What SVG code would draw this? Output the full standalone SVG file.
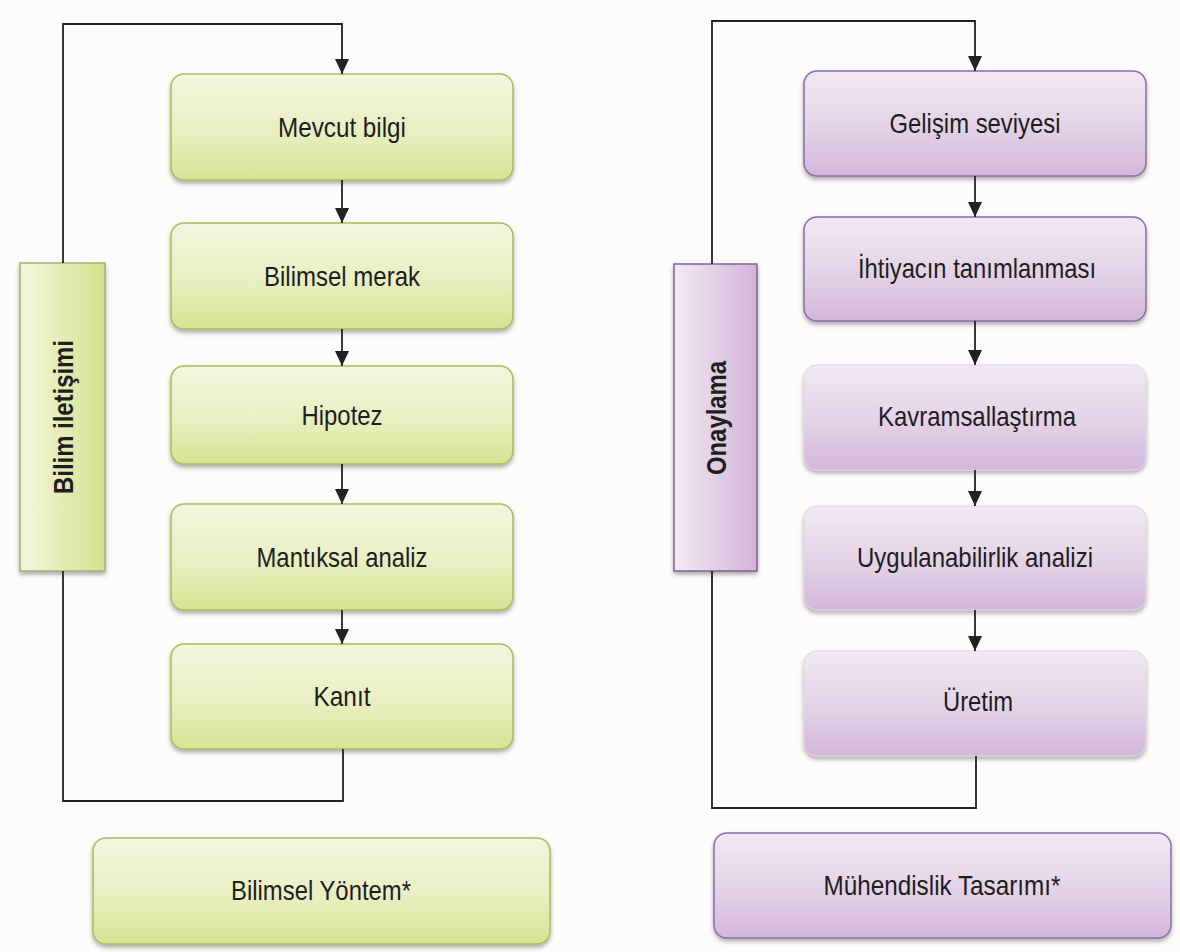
<svg xmlns="http://www.w3.org/2000/svg" width="1180" height="952" viewBox="0 0 1180 952">
  <defs>
    <linearGradient id="gGreen" x1="0" y1="0" x2="0" y2="1">
      <stop offset="0" stop-color="#f3f5dd"/>
      <stop offset="0.55" stop-color="#e9efc2"/>
      <stop offset="1" stop-color="#d7e393"/>
    </linearGradient>
    <linearGradient id="gPurple" x1="0" y1="0" x2="0" y2="1">
      <stop offset="0" stop-color="#f1e8f2"/>
      <stop offset="0.55" stop-color="#e3d2e7"/>
      <stop offset="1" stop-color="#d2b6da"/>
    </linearGradient>
    <linearGradient id="gGreenBar" x1="0" y1="0" x2="1" y2="0">
      <stop offset="0" stop-color="#f3f6dc"/>
      <stop offset="1" stop-color="#d5e18f"/>
    </linearGradient>
    <linearGradient id="gPurpleBar" x1="0" y1="0" x2="1" y2="0">
      <stop offset="0" stop-color="#f3eaf4"/>
      <stop offset="1" stop-color="#d2b4d8"/>
    </linearGradient>
    <filter id="shadow" x="-10%" y="-10%" width="120%" height="130%">
      <feDropShadow dx="0" dy="3" stdDeviation="2" flood-color="#555" flood-opacity="0.45"/>
    </filter>
    <marker id="arrow" viewBox="0 0 15 14" refX="15" refY="7" markerWidth="15" markerHeight="14" markerUnits="userSpaceOnUse" orient="auto">
      <path d="M0,0 L15,7 L0,14 z" fill="#222"/>
    </marker>
    <style>
      .lbl { font-family: "Liberation Sans", Arial, sans-serif; font-size: 28px; fill: #1e1e1e; text-anchor: middle; }
      .bar { font-weight: bold; }
      .green { fill: url(#gGreen); stroke: #a7bf5e; stroke-width: 1.5; filter: url(#shadow); }
      .purple { fill: url(#gPurple); stroke: #8c6caa; stroke-width: 1.5; filter: url(#shadow); }
      .purple-soft { fill: url(#gPurple); stroke: #e2d3e6; stroke-width: 1; filter: url(#shadow); }
      .green-bar { fill: url(#gGreenBar); stroke: #9fb27a; stroke-width: 1.5; filter: url(#shadow); }
      .purple-bar { fill: url(#gPurpleBar); stroke: #7d6296; stroke-width: 1.5; filter: url(#shadow); }
      .line { fill: none; stroke: #222; stroke-width: 1.8; }
    </style>
  </defs>

  <rect x="0" y="0" width="1180" height="952" fill="#fdfcfa"/>

  <!-- Scientific method column -->
  <g id="mevcut-bilgi">
    <rect class="green" x="171" y="74" width="342" height="106" rx="13"/>
    <text class="lbl" x="342" y="137" textLength="128" lengthAdjust="spacingAndGlyphs">Mevcut bilgi</text>
  </g>
  <g id="bilimsel-merak">
    <rect class="green" x="171" y="223" width="342" height="106" rx="13"/>
    <text class="lbl" x="342" y="286" textLength="156" lengthAdjust="spacingAndGlyphs">Bilimsel merak</text>
  </g>
  <g id="hipotez">
    <rect class="green" x="171" y="366" width="342" height="98" rx="13"/>
    <text class="lbl" x="342" y="425" textLength="81" lengthAdjust="spacingAndGlyphs">Hipotez</text>
  </g>
  <g id="mantiksal-analiz">
    <rect class="green" x="171" y="504" width="342" height="106" rx="13"/>
    <text class="lbl" x="342" y="567" textLength="171" lengthAdjust="spacingAndGlyphs">Mantıksal analiz</text>
  </g>
  <g id="kanit">
    <rect class="green" x="171" y="644" width="342" height="105" rx="13"/>
    <text class="lbl" x="342" y="706" textLength="57" lengthAdjust="spacingAndGlyphs">Kanıt</text>
  </g>
  <g id="bilim-iletisimi">
    <rect class="green-bar" x="20" y="263" width="85" height="308"/>
    <text class="lbl bar" x="62" y="417" dy="10.5" transform="rotate(-90 62 417)" textLength="154" lengthAdjust="spacingAndGlyphs">Bilim iletişimi</text>
  </g>
  <g id="bilimsel-yontem">
    <rect class="green" x="93" y="838" width="457" height="106" rx="13"/>
    <text class="lbl" x="321" y="900" textLength="180" lengthAdjust="spacingAndGlyphs">Bilimsel Yöntem*</text>
  </g>

  <!-- Engineering design column -->
  <g id="gelisim-seviyesi">
    <rect class="purple" x="804" y="71" width="342" height="105" rx="13"/>
    <text class="lbl" x="975" y="133" textLength="171" lengthAdjust="spacingAndGlyphs">Gelişim seviyesi</text>
  </g>
  <g id="ihtiyacin-tanimlanmasi">
    <rect class="purple" x="804" y="217" width="342" height="104" rx="13"/>
    <text class="lbl" x="977" y="278" textLength="238" lengthAdjust="spacingAndGlyphs">İhtiyacın tanımlanması</text>
  </g>
  <g id="kavramsallastirma">
    <rect class="purple-soft" x="804" y="365" width="342" height="105" rx="13"/>
    <text class="lbl" x="977" y="426" textLength="198" lengthAdjust="spacingAndGlyphs">Kavramsallaştırma</text>
  </g>
  <g id="uygulanabilirlik-analizi">
    <rect class="purple-soft" x="804" y="506" width="342" height="104" rx="13"/>
    <text class="lbl" x="975" y="567" textLength="236" lengthAdjust="spacingAndGlyphs">Uygulanabilirlik analizi</text>
  </g>
  <g id="uretim">
    <rect class="purple-soft" x="804" y="651" width="342" height="105" rx="13"/>
    <text class="lbl" x="978" y="711" textLength="70" lengthAdjust="spacingAndGlyphs">Üretim</text>
  </g>
  <g id="onaylama">
    <rect class="purple-bar" x="674" y="264" width="83" height="307"/>
    <text class="lbl bar" x="715" y="418" dy="10.5" transform="rotate(-90 715 418)" textLength="114" lengthAdjust="spacingAndGlyphs">Onaylama</text>
  </g>
  <g id="muhendislik-tasarimi">
    <rect class="purple" x="714" y="833" width="457" height="105" rx="13"/>
    <text class="lbl" x="942" y="895" textLength="237" lengthAdjust="spacingAndGlyphs">Mühendislik Tasarımı*</text>
  </g>

  <!-- Connectors -->
  <g id="connectors">
    <path class="line" d="M63,263 V24 H342 V74" marker-end="url(#arrow)"/>
    <path class="line" d="M342,180 V223" marker-end="url(#arrow)"/>
    <path class="line" d="M342,329 V366" marker-end="url(#arrow)"/>
    <path class="line" d="M342,464 V504" marker-end="url(#arrow)"/>
    <path class="line" d="M342,610 V644" marker-end="url(#arrow)"/>
    <path class="line" d="M343,749 V801 H63 V571"/>

    <path class="line" d="M712,264 V21 H975 V71" marker-end="url(#arrow)"/>
    <path class="line" d="M975,176 V217" marker-end="url(#arrow)"/>
    <path class="line" d="M975,321 V365" marker-end="url(#arrow)"/>
    <path class="line" d="M975,470 V506" marker-end="url(#arrow)"/>
    <path class="line" d="M975,610 V651" marker-end="url(#arrow)"/>
    <path class="line" d="M976,756 V808 H712 V571"/>
  </g>
</svg>
